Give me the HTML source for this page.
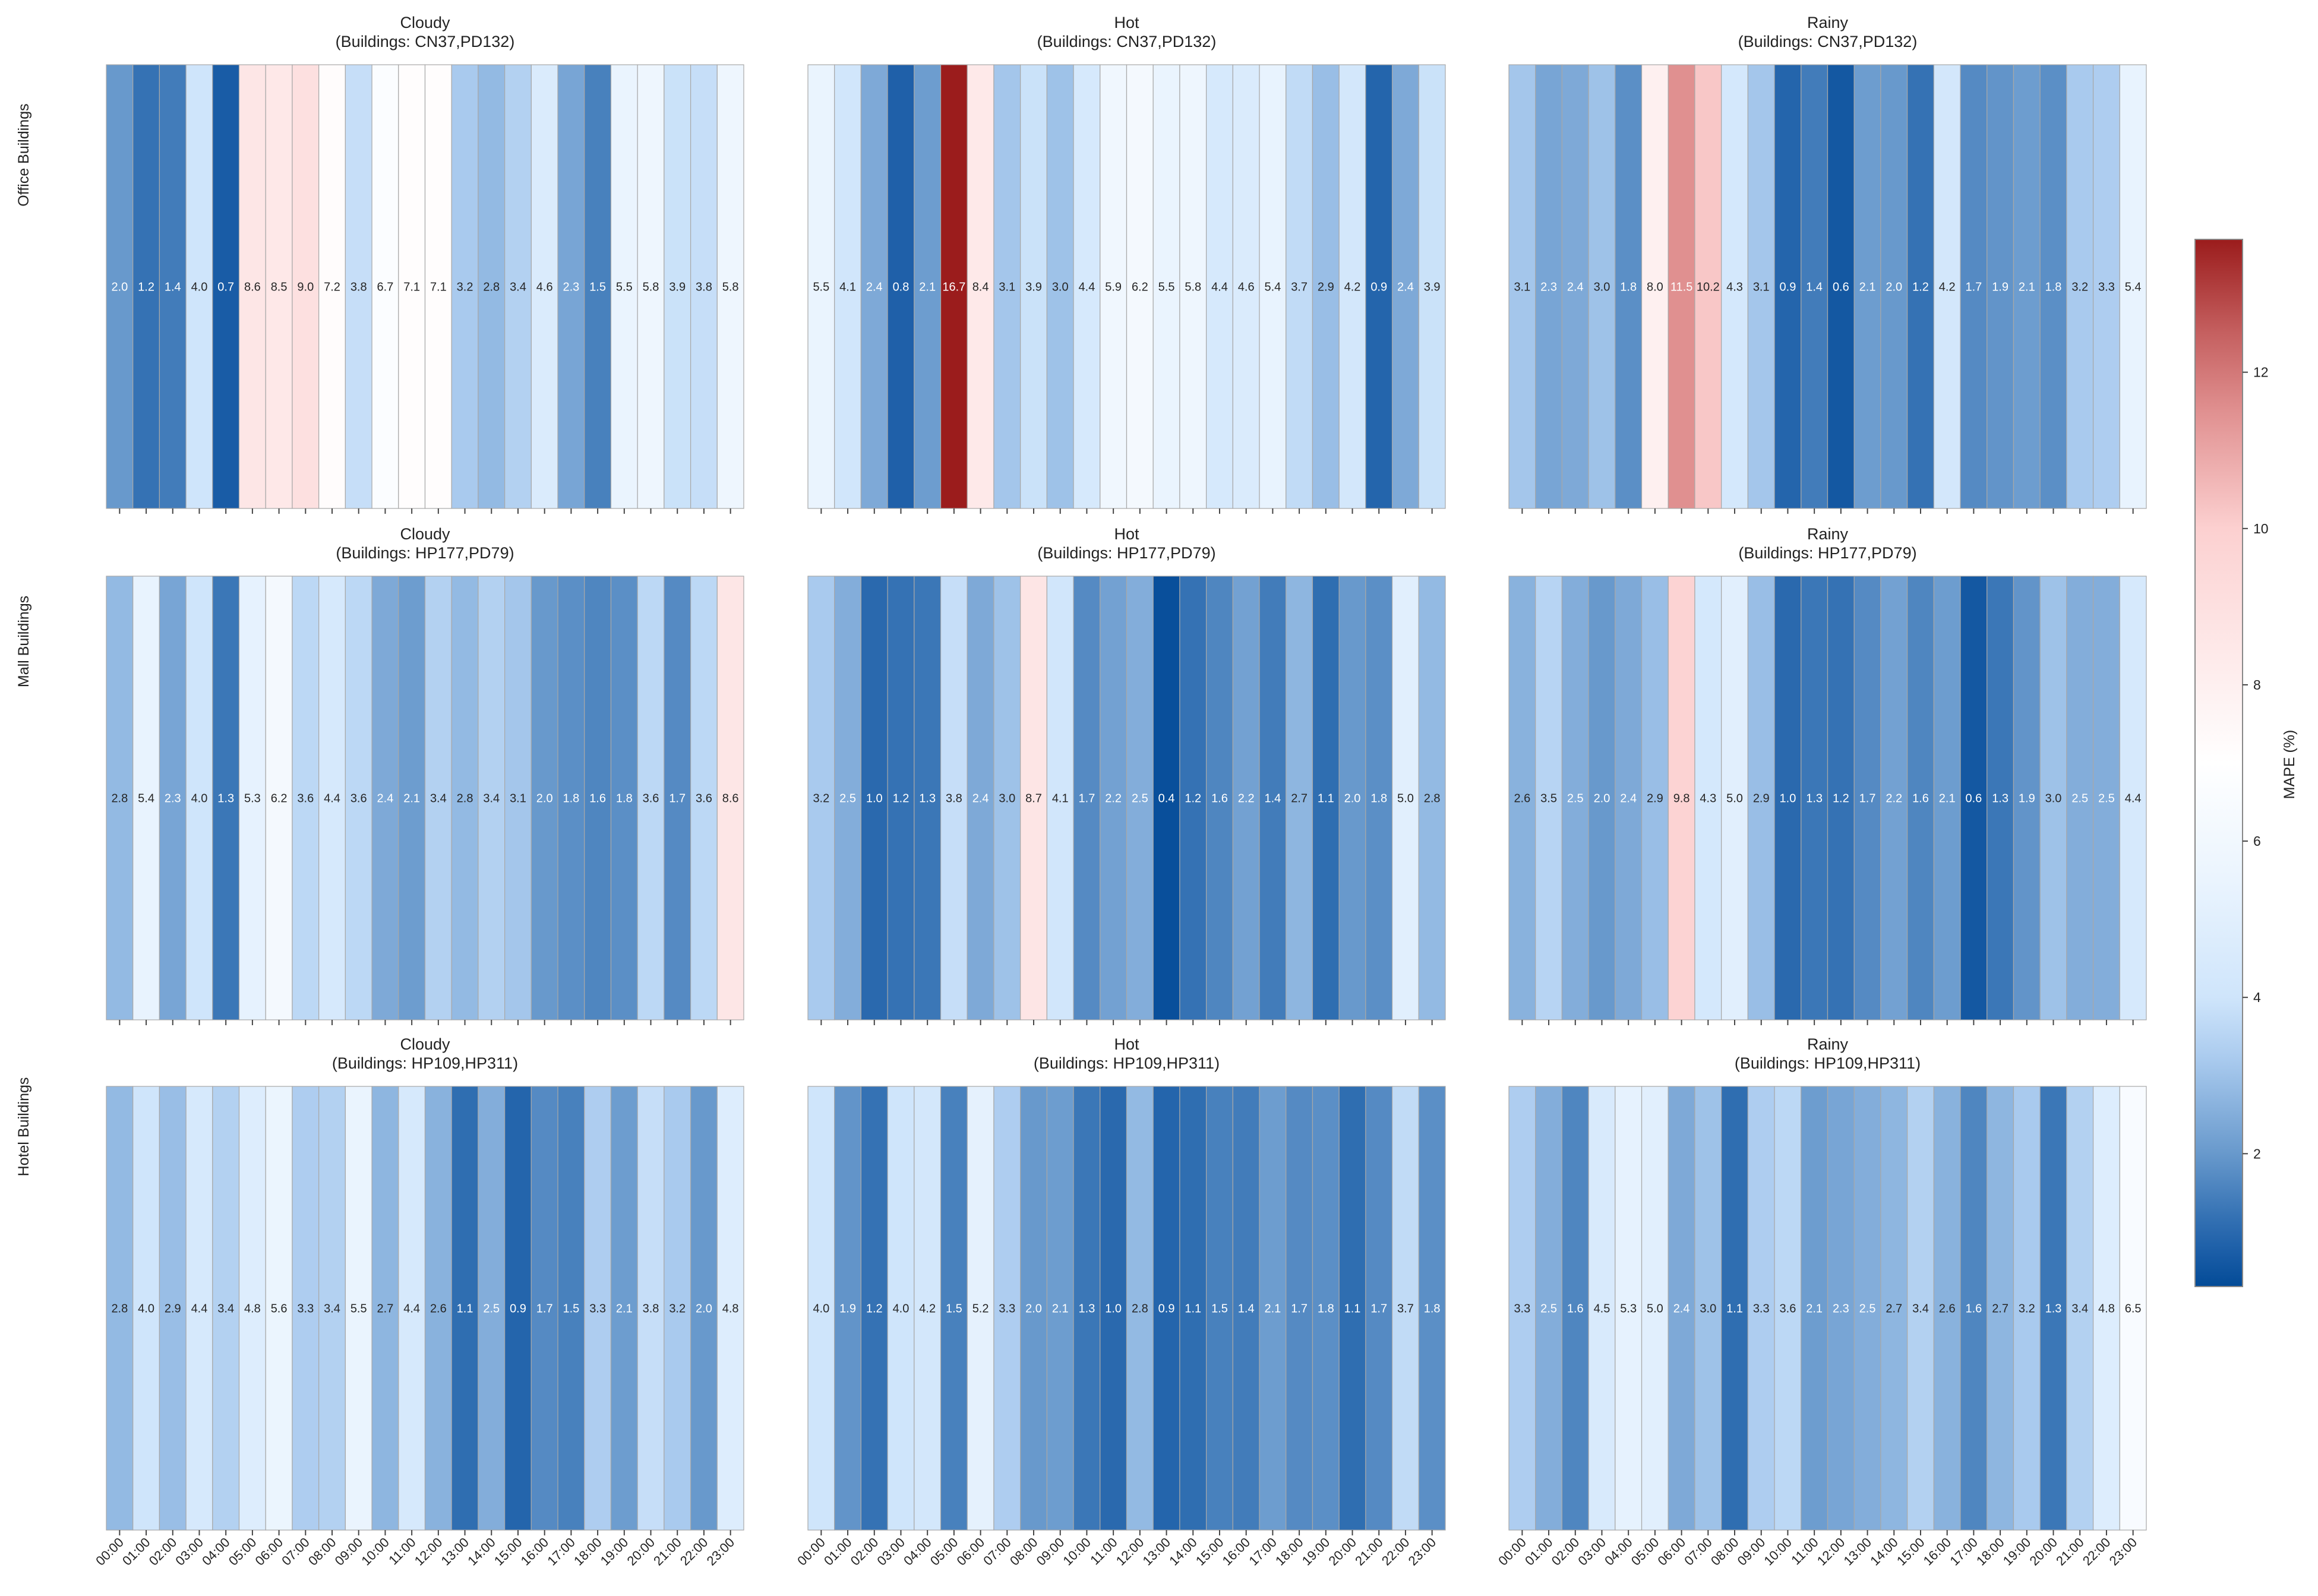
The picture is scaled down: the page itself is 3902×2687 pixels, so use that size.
<!DOCTYPE html>
<html><head><meta charset="utf-8"><style>
html,body{margin:0;padding:0;background:#fff;}
svg{display:block;font-family:"Liberation Sans",Arial,sans-serif;}
</style></head><body>
<svg id="chart" width="3902" height="2687" viewBox="0 0 3902 2687" xmlns="http://www.w3.org/2000/svg">
<defs>
<linearGradient id="cbgrad" x1="0" y1="1" x2="0" y2="0"></linearGradient>
</defs>
</svg>
<script>
const hours = ["00:00","01:00","02:00","03:00","04:00","05:00","06:00","07:00","08:00","09:00","10:00","11:00","12:00","13:00","14:00","15:00","16:00","17:00","18:00","19:00","20:00","21:00","22:00","23:00"];
const conditions = ["Cloudy","Hot","Rainy"];
const buildingTypes = ["Office Buildings","Mall Buildings","Hotel Buildings"];
const buildingIds = ["CN37,PD132","HP177,PD79","HP109,HP311"];
const officeCloudy = [2.0,1.2,1.4,4.0,0.7,8.6,8.5,9.0,7.2,3.8,6.7,7.1,7.1,3.2,2.8,3.4,4.6,2.3,1.5,5.5,5.8,3.9,3.8,5.8];
const officeHot = [5.5,4.1,2.4,0.8,2.1,16.7,8.4,3.1,3.9,3.0,4.4,5.9,6.2,5.5,5.8,4.4,4.6,5.4,3.7,2.9,4.2,0.9,2.4,3.9];
const officeRainy = [3.1,2.3,2.4,3.0,1.8,8.0,11.5,10.2,4.3,3.1,0.9,1.4,0.6,2.1,2.0,1.2,4.2,1.7,1.9,2.1,1.8,3.2,3.3,5.4];
const mallCloudy = [2.8,5.4,2.3,4.0,1.3,5.3,6.2,3.6,4.4,3.6,2.4,2.1,3.4,2.8,3.4,3.1,2.0,1.8,1.6,1.8,3.6,1.7,3.6,8.6];
const mallHot = [3.2,2.5,1.0,1.2,1.3,3.8,2.4,3.0,8.7,4.1,1.7,2.2,2.5,0.4,1.2,1.6,2.2,1.4,2.7,1.1,2.0,1.8,5.0,2.8];
const mallRainy = [2.6,3.5,2.5,2.0,2.4,2.9,9.8,4.3,5.0,2.9,1.0,1.3,1.2,1.7,2.2,1.6,2.1,0.6,1.3,1.9,3.0,2.5,2.5,4.4];
const hotelCloudy = [2.8,4.0,2.9,4.4,3.4,4.8,5.6,3.3,3.4,5.5,2.7,4.4,2.6,1.1,2.5,0.9,1.7,1.5,3.3,2.1,3.8,3.2,2.0,4.8];
const hotelHot = [4.0,1.9,1.2,4.0,4.2,1.5,5.2,3.3,2.0,2.1,1.3,1.0,2.8,0.9,1.1,1.5,1.4,2.1,1.7,1.8,1.1,1.7,3.7,1.8];
const hotelRainy = [3.3,2.5,1.6,4.5,5.3,5.0,2.4,3.0,1.1,3.3,3.6,2.1,2.3,2.5,2.7,3.4,2.6,1.6,2.7,3.2,1.3,3.4,4.8,6.5];
const cbTicks = [2,4,6,8,10,12];
const vmin = 0.3, vmax = 13.7;

const grid = [[officeCloudy,officeHot,officeRainy],[mallCloudy,mallHot,mallRainy],[hotelCloudy,hotelHot,hotelRainy]];
const stops = [[0.3,"#034b97"],[0.7,"#195ca6"],[1.2,"#3572b4"],[2.0,"#6899cc"],[3.2,"#a9caee"],[4.0,"#cfe5fb"],[5.5,"#eaf4fe"],[7.0,"#ffffff"],[9.0,"#fde0e0"],[10.0,"#fcd0d0"],[11.5,"#e09090"],[12.5,"#c56060"],[13.7,"#9b1c1c"]];
function hex(c){return [parseInt(c.slice(1,3),16),parseInt(c.slice(3,5),16),parseInt(c.slice(5,7),16)];}
function color(v){
  if(v<=stops[0][0]) return stops[0][1];
  if(v>=stops[stops.length-1][0]) return stops[stops.length-1][1];
  for(let i=0;i<stops.length-1;i++){
    const a=stops[i],b=stops[i+1];
    if(v>=a[0]&&v<=b[0]){
      const t=(v-a[0])/(b[0]-a[0]);const ca=hex(a[1]),cb=hex(b[1]);
      return "rgb("+ca.map((x,k)=>Math.round(x+(cb[k]-x)*t)).join(",")+")";
    }
  }
}
const NS="http://www.w3.org/2000/svg";
const svg=document.getElementById("chart");
function el(tag,attrs,parent){const e=document.createElementNS(NS,tag);for(const k in attrs)e.setAttribute(k,attrs[k]);(parent||svg).appendChild(e);return e;}

const colX=[179,1360,2540], rowY=[109,970,1829], PW=1073, PH=747;
const rowLabelY=[261,1080,1897];
const cw=PW/hours.length;
function xScale(c,i){return colX[c]+i*cw;}

for(let r=0;r<3;r++){
  const lab=el("text",{x:48,y:rowLabelY[r],"font-size":25,fill:"#222","text-anchor":"middle",transform:"rotate(-90 48 "+rowLabelY[r]+")"});
  
  
  lab.textContent=buildingTypes[r];
  for(let c=0;c<3;c++){
    const g=el("g",{});
    
    
    const cx=colX[c]+PW/2;
    const t1=el("text",{x:cx,y:rowY[r]-62,"font-size":27,fill:"#222","text-anchor":"middle"},g);
    
    
    t1.textContent=conditions[c];
    const t2=el("text",{x:cx,y:rowY[r]-30,"font-size":27,fill:"#222","text-anchor":"middle"},g);
    
    
    t2.textContent="(Buildings: "+buildingIds[r]+")";
    const vals=grid[r][c];
    vals.forEach((v,i)=>{
      const x=xScale(c,i);
      const rc=el("rect",{x:x,y:rowY[r],width:cw,height:PH,fill:color(v),stroke:"#a8a8a8","stroke-width":1.2},g);
      
      
      const tx=el("text",{x:x+cw/2,y:rowY[r]+PH/2+7,"font-size":20,"text-anchor":"middle",fill:(v<2.6||v>11)?"#ffffff":"#262626"},g);
      
      
      tx.textContent=v.toFixed(1);
      const tk=el("line",{x1:x+cw/2,x2:x+cw/2,y1:rowY[r]+PH,y2:rowY[r]+PH+9,stroke:"#444","stroke-width":2},g);
      
      
      if(r===2){
        const lx=x+cw/2+8, ly=rowY[r]+PH+22;
        const xl=el("text",{x:lx,y:ly,"font-size":22,fill:"#222","text-anchor":"end",transform:"rotate(-45 "+lx+" "+ly+")"},g);
        
        
        xl.textContent=hours[i];
      }
    });
  }
}

// colorbar
const cbX=3695, cbW=80, cbTop=403, cbBot=2166;
function cbY(v){return cbBot-(v-vmin)/(vmax-vmin)*(cbBot-cbTop);}
const grad=document.getElementById("cbgrad");
stops.forEach(s=>{el("stop",{offset:((s[0]-vmin)/(vmax-vmin)*100).toFixed(2)+"%","stop-color":s[1]},grad);});
const cb=el("rect",{x:cbX,y:cbTop,width:cbW,height:cbBot-cbTop,fill:"url(#cbgrad)",stroke:"#888","stroke-width":2});


cbTicks.forEach(t=>{
  const y=cbY(t);
  const l=el("line",{x1:cbX+cbW,x2:cbX+cbW+9,y1:y,y2:y,stroke:"#444","stroke-width":2});
  
  
  const tt=el("text",{x:cbX+cbW+18,y:y+8,"font-size":23,fill:"#222"});
  
  
  tt.textContent=t;
});
const cl=el("text",{x:3862,y:1287,"font-size":25,fill:"#222","text-anchor":"middle",transform:"rotate(-90 3862 1287)"});


cl.textContent="MAPE (%)";
</script>
</body></html>
